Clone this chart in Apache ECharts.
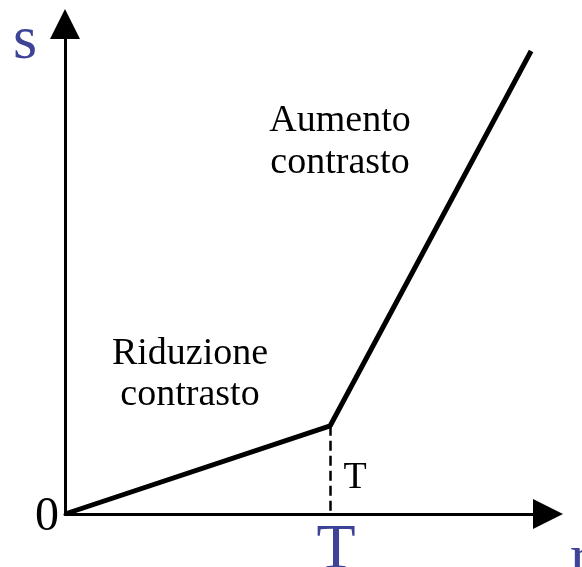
<!DOCTYPE html>
<html>
<head>
<meta charset="utf-8">
<script src="https://cdn.jsdelivr.net/npm/echarts@6/dist/echarts.min.js"></script>
<style>
  html, body { margin: 0; padding: 0; background: #fff; }
  #chart { width: 582px; height: 567px; }
</style>
</head>
<body>
<div id="chart"></div>
<script>
// punti della curva (r, s) in unità degli assi 0..100
const rValues = [0, 54.9, 96.5];
const sValues = [0, 18.0, 94.5];
const sogliaT = 54.9;
const etichette = {
  riduzione: 'Riduzione\ncontrasto',
  aumento: 'Aumento\ncontrasto'
};

~function () {
  let myChart = echarts.init(document.getElementById('chart'));
  const serif = '"Liberation Serif", "Times New Roman", serif';
  const blu = '#3d4396';
  let option = {
    animation: false,
    grid: { left: 65, right: 34, top: 24, bottom: 53 },
    xAxis: {
      type: 'value', min: 0, max: 100,
      axisLine: { show: true, lineStyle: { color: '#000', width: 3 },
        symbol: ['none', 'triangle'], symbolSize: [30, 30] },
      axisTick: { show: false }, axisLabel: { show: false }, splitLine: { show: false }
    },
    yAxis: {
      type: 'value', min: 0, max: 100,
      axisLine: { show: true, lineStyle: { color: '#000', width: 3 },
        symbol: ['none', 'triangle'], symbolSize: [30, 30] },
      axisTick: { show: false }, axisLabel: { show: false }, splitLine: { show: false }
    },
    series: [
      {
        type: 'line',
        data: rValues.map((r, i) => [r, sValues[i]]),
        showSymbol: false,
        lineStyle: { color: '#000', width: 5 },
        markLine: {
          silent: true,
          symbol: 'none',
          label: { show: false },
          lineStyle: { color: '#000', width: 2.5, type: [10, 5] },
          data: [[{ coord: [sogliaT, sValues[1]] }, { coord: [sogliaT, 0] }]]
        }
      }
    ],
    graphic: [
      { type: 'text', x: 340, y: 142, style: { text: etichette.aumento, font: '38px ' + serif, lineHeight: 42, fill: '#000', textAlign: 'center', textVerticalAlign: 'middle' } },
      { type: 'text', x: 190, y: 375, style: { text: etichette.riduzione, font: '38px ' + serif, lineHeight: 41, fill: '#000', textAlign: 'center', textVerticalAlign: 'middle' } },
      { type: 'text', x: 355, y: 478, style: { text: 'T', font: '38px ' + serif, fill: '#000', textAlign: 'center', textVerticalAlign: 'middle' } },
      { type: 'text', x: 47, y: 517, style: { text: '0', font: '48px ' + serif, fill: '#000', textAlign: 'center', textVerticalAlign: 'middle' } },
      { type: 'text', x: 336, y: 551, style: { text: 'T', font: '64px ' + serif, fill: blu, textAlign: 'center', textVerticalAlign: 'middle' } },
      { type: 'text', x: 25, y: 42, style: { text: 's', font: '62px ' + serif, fill: blu, textAlign: 'center', textVerticalAlign: 'middle' } },
      { type: 'text', x: 570, y: 560, style: { text: 'r', font: '62px ' + serif, fill: blu, textAlign: 'left', textVerticalAlign: 'middle' } }
    ]
  };
  myChart.setOption(option);
}();
</script>
</body>
</html>
